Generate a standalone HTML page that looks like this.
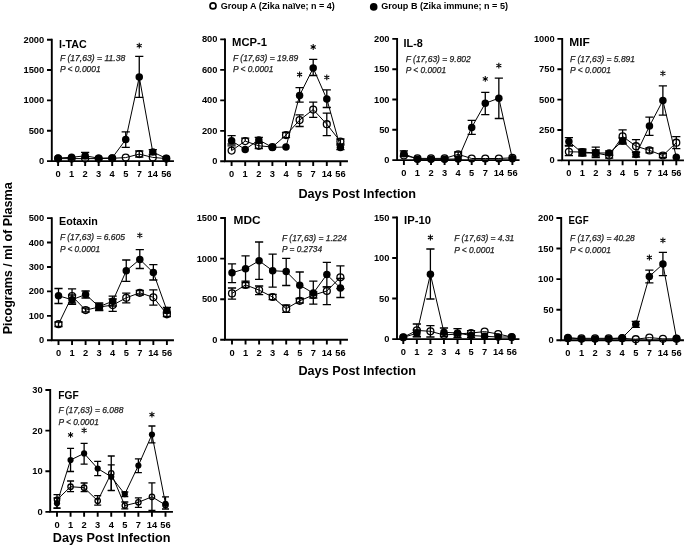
<!DOCTYPE html>
<html><head><meta charset="utf-8"><title>Cytokines</title>
<style>
html,body{margin:0;padding:0;background:#fff;}
body{width:685px;height:546px;overflow:hidden;}
svg{display:block;filter:grayscale(1);}
text{font-family:"Liberation Sans", sans-serif;}
.tl{font-size:9.3px;font-weight:bold;fill:#000;}
.ti{font-size:10.8px;font-weight:bold;fill:#000;}
.st{font-size:8.6px;font-style:italic;fill:#222;stroke:#222;stroke-width:0.25px;}
.lg{font-size:9.4px;font-weight:bold;fill:#000;}
.ax{font-size:12.6px;font-weight:bold;fill:#000;}
.star{font-size:13px;font-weight:bold;fill:#000;}
</style></head>
<body>
<svg width="685" height="546" viewBox="0 0 685 546">
<rect width="685" height="546" fill="#fff"/>
<circle cx="213" cy="5.9" r="3.0" fill="none" stroke="#000" stroke-width="1.7"/>
<text x="220.8" y="8.8" class="lg" textLength="114" lengthAdjust="spacingAndGlyphs">Group A (Zika na&#239;ve; n = 4)</text>
<circle cx="373.7" cy="6.9" r="3.8" fill="#000"/>
<text x="381.2" y="8.9" class="lg" textLength="126.8" lengthAdjust="spacingAndGlyphs">Group B (Zika immune; n = 5)</text>
<text x="298.4" y="197.6" class="ax" textLength="117.6" lengthAdjust="spacingAndGlyphs">Days Post Infection</text>
<text x="298.4" y="375.4" class="ax" textLength="117.6" lengthAdjust="spacingAndGlyphs">Days Post Infection</text>
<text x="52.8" y="541.5" class="ax" textLength="117.6" lengthAdjust="spacingAndGlyphs">Days Post Infection</text>
<text transform="translate(11.7 334.3) rotate(-90)" x="0" y="0" class="ax" textLength="152.0" lengthAdjust="spacingAndGlyphs">Picograms / ml of Plasma</text>
<path d="M51.8 39.7V161.1H173" fill="none" stroke="#000" stroke-width="1.9" stroke-linecap="square"/>
<text x="44.2" y="42.75" class="tl" text-anchor="end">2000</text>
<text x="44.2" y="73.1" class="tl" text-anchor="end">1500</text>
<text x="44.2" y="103.45" class="tl" text-anchor="end">1000</text>
<text x="44.2" y="133.8" class="tl" text-anchor="end">500</text>
<text x="44.2" y="164.15" class="tl" text-anchor="end">0</text>
<path d="M47 39.7H51.8 M47 70.05H51.8 M47 100.4H51.8 M47 130.75H51.8 M47 161.1H51.8 M58.1 161.1V165.9 M71.62 161.1V165.9 M85.15 161.1V165.9 M98.68 161.1V165.9 M112.2 161.1V165.9 M125.73 161.1V165.9 M139.25 161.1V165.9 M152.78 161.1V165.9 M166.3 161.1V165.9" stroke="#000" stroke-width="1.9" fill="none"/>
<text x="58.1" y="176.9" class="tl" text-anchor="middle">0</text>
<text x="71.62" y="176.9" class="tl" text-anchor="middle">1</text>
<text x="85.15" y="176.9" class="tl" text-anchor="middle">2</text>
<text x="98.68" y="176.9" class="tl" text-anchor="middle">3</text>
<text x="112.2" y="176.9" class="tl" text-anchor="middle">4</text>
<text x="125.73" y="176.9" class="tl" text-anchor="middle">5</text>
<text x="139.25" y="176.9" class="tl" text-anchor="middle">7</text>
<text x="152.78" y="176.9" class="tl" text-anchor="middle">14</text>
<text x="166.3" y="176.9" class="tl" text-anchor="middle">56</text>
<text x="59.1" y="47.7" class="ti" textLength="27.7" lengthAdjust="spacingAndGlyphs">I-TAC</text>
<text x="59.9" y="61.15" class="st" textLength="65.4" lengthAdjust="spacingAndGlyphs">F (17,63) = 11.38</text>
<text x="59.9" y="72.35" class="st" textLength="40.8" lengthAdjust="spacingAndGlyphs">P &lt; 0.0001</text>
<polyline points="58.1,158.6 71.62,158.6 85.15,158.6 98.68,158.6 112.2,158.3 125.73,157.6 139.25,154.1 152.78,157.4 166.3,158.6" fill="none" stroke="#000" stroke-width="1.0"/>
<polyline points="58.1,158 71.62,157.3 85.15,155.8 98.68,158.2 112.2,157.9 125.73,139.6 139.25,77 152.78,152 166.3,158.4" fill="none" stroke="#000" stroke-width="1.0"/>
<path d="M139.25 151V157 M135.15 151H143.35 M135.15 157H143.35" stroke="#000" stroke-width="1.3" fill="none"/>
<path d="M85.15 152.3V158.5 M81.05 152.3H89.25 M81.05 158.5H89.25 M125.73 131.9V147.4 M121.63 131.9H129.83 M121.63 147.4H129.83 M139.25 56.4V97.4 M135.15 56.4H143.35 M135.15 97.4H143.35 M152.78 149.6V154.4 M148.68 149.6H156.88 M148.68 154.4H156.88" stroke="#000" stroke-width="1.3" fill="none"/>
<circle cx="58.1" cy="158" r="3.75" fill="#000"/>
<circle cx="71.62" cy="157.3" r="3.75" fill="#000"/>
<circle cx="85.15" cy="155.8" r="3.75" fill="#000"/>
<circle cx="98.68" cy="158.2" r="3.75" fill="#000"/>
<circle cx="112.2" cy="157.9" r="3.75" fill="#000"/>
<circle cx="125.73" cy="139.6" r="3.75" fill="#000"/>
<circle cx="139.25" cy="77" r="3.75" fill="#000"/>
<circle cx="152.78" cy="152" r="3.75" fill="#000"/>
<circle cx="166.3" cy="158.4" r="3.75" fill="#000"/>
<circle cx="58.1" cy="158.6" r="3.45" fill="none" stroke="#000" stroke-width="1.3"/>
<circle cx="71.62" cy="158.6" r="3.45" fill="none" stroke="#000" stroke-width="1.3"/>
<circle cx="85.15" cy="158.6" r="3.45" fill="none" stroke="#000" stroke-width="1.3"/>
<circle cx="98.68" cy="158.6" r="3.45" fill="none" stroke="#000" stroke-width="1.3"/>
<circle cx="112.2" cy="158.3" r="3.45" fill="none" stroke="#000" stroke-width="1.3"/>
<circle cx="125.73" cy="157.6" r="3.45" fill="none" stroke="#000" stroke-width="1.3"/>
<circle cx="139.25" cy="154.1" r="3.45" fill="none" stroke="#000" stroke-width="1.3"/>
<circle cx="152.78" cy="157.4" r="3.45" fill="none" stroke="#000" stroke-width="1.3"/>
<circle cx="166.3" cy="158.6" r="3.45" fill="none" stroke="#000" stroke-width="1.3"/>
<path d="M139.25 42.8V48.6 M136.74 44.25L141.76 47.15 M136.74 47.15L141.76 44.25" stroke="#000" stroke-width="1.05" fill="none"/>
<path d="M225 39.4V161.3H347" fill="none" stroke="#000" stroke-width="1.9" stroke-linecap="square"/>
<text x="217.4" y="42.45" class="tl" text-anchor="end">800</text>
<text x="217.4" y="72.92" class="tl" text-anchor="end">600</text>
<text x="217.4" y="103.4" class="tl" text-anchor="end">400</text>
<text x="217.4" y="133.88" class="tl" text-anchor="end">200</text>
<text x="217.4" y="164.35" class="tl" text-anchor="end">0</text>
<path d="M220.2 39.4H225 M220.2 69.88H225 M220.2 100.35H225 M220.2 130.83H225 M220.2 161.3H225 M231.6 161.3V166.1 M245.2 161.3V166.1 M258.8 161.3V166.1 M272.4 161.3V166.1 M286 161.3V166.1 M299.6 161.3V166.1 M313.2 161.3V166.1 M326.8 161.3V166.1 M340.4 161.3V166.1" stroke="#000" stroke-width="1.9" fill="none"/>
<text x="231.6" y="177.1" class="tl" text-anchor="middle">0</text>
<text x="245.2" y="177.1" class="tl" text-anchor="middle">1</text>
<text x="258.8" y="177.1" class="tl" text-anchor="middle">2</text>
<text x="272.4" y="177.1" class="tl" text-anchor="middle">3</text>
<text x="286" y="177.1" class="tl" text-anchor="middle">4</text>
<text x="299.6" y="177.1" class="tl" text-anchor="middle">5</text>
<text x="313.2" y="177.1" class="tl" text-anchor="middle">7</text>
<text x="326.8" y="177.1" class="tl" text-anchor="middle">14</text>
<text x="340.4" y="177.1" class="tl" text-anchor="middle">56</text>
<text x="232.1" y="46.3" class="ti" textLength="34.9" lengthAdjust="spacingAndGlyphs">MCP-1</text>
<text x="232.9" y="61.15" class="st" textLength="65.4" lengthAdjust="spacingAndGlyphs">F (17,63) = 19.89</text>
<text x="232.9" y="72.45" class="st" textLength="40.5" lengthAdjust="spacingAndGlyphs">P &lt; 0.0001</text>
<polyline points="231.6,150.6 245.2,141.1 258.8,145.8 272.4,147 286,135.1 299.6,120.1 313.2,109.6 326.8,124.2 340.4,141.5" fill="none" stroke="#000" stroke-width="1.0"/>
<polyline points="231.6,140.8 245.2,149.4 258.8,139.9 272.4,147.4 286,147 299.6,95.4 313.2,68.1 326.8,99 340.4,147.4" fill="none" stroke="#000" stroke-width="1.0"/>
<path d="M231.6 145.8V150.6 M227.5 145.8H235.7 M245.2 138.1V141.1 M241.1 138.1H249.3 M258.8 143V148.5 M254.7 143H262.9 M254.7 148.5H262.9 M286 132.5V137.7 M281.9 132.5H290.1 M281.9 137.7H290.1 M299.6 114.8V126.5 M295.5 114.8H303.7 M295.5 126.5H303.7 M313.2 102.1V117.4 M309.1 102.1H317.3 M309.1 117.4H317.3 M326.8 113.2V135.6 M322.7 113.2H330.9 M322.7 135.6H330.9 M340.4 139V144 M336.3 139H344.5 M336.3 144H344.5" stroke="#000" stroke-width="1.3" fill="none"/>
<path d="M231.6 135.7V144 M227.5 135.7H235.7 M227.5 144H235.7 M258.8 137.3V142.5 M254.7 137.3H262.9 M254.7 142.5H262.9 M299.6 87.6V102.2 M295.5 87.6H303.7 M295.5 102.2H303.7 M313.2 59.4V75.5 M309.1 59.4H317.3 M309.1 75.5H317.3 M326.8 89.9V107.5 M322.7 89.9H330.9 M322.7 107.5H330.9 M340.4 145.2V149.6 M336.3 145.2H344.5 M336.3 149.6H344.5" stroke="#000" stroke-width="1.3" fill="none"/>
<circle cx="231.6" cy="140.8" r="3.75" fill="#000"/>
<circle cx="245.2" cy="149.4" r="3.75" fill="#000"/>
<circle cx="258.8" cy="139.9" r="3.75" fill="#000"/>
<circle cx="272.4" cy="147.4" r="3.75" fill="#000"/>
<circle cx="286" cy="147" r="3.75" fill="#000"/>
<circle cx="299.6" cy="95.4" r="3.75" fill="#000"/>
<circle cx="313.2" cy="68.1" r="3.75" fill="#000"/>
<circle cx="326.8" cy="99" r="3.75" fill="#000"/>
<circle cx="340.4" cy="147.4" r="3.75" fill="#000"/>
<circle cx="231.6" cy="150.6" r="3.45" fill="none" stroke="#000" stroke-width="1.3"/>
<circle cx="245.2" cy="141.1" r="3.45" fill="none" stroke="#000" stroke-width="1.3"/>
<circle cx="258.8" cy="145.8" r="3.45" fill="none" stroke="#000" stroke-width="1.3"/>
<circle cx="272.4" cy="147" r="3.45" fill="none" stroke="#000" stroke-width="1.3"/>
<circle cx="286" cy="135.1" r="3.45" fill="none" stroke="#000" stroke-width="1.3"/>
<circle cx="299.6" cy="120.1" r="3.45" fill="none" stroke="#000" stroke-width="1.3"/>
<circle cx="313.2" cy="109.6" r="3.45" fill="none" stroke="#000" stroke-width="1.3"/>
<circle cx="326.8" cy="124.2" r="3.45" fill="none" stroke="#000" stroke-width="1.3"/>
<circle cx="340.4" cy="141.5" r="3.45" fill="none" stroke="#000" stroke-width="1.3"/>
<path d="M299.6 71.6V77.4 M297.09 73.05L302.11 75.95 M297.09 75.95L302.11 73.05" stroke="#000" stroke-width="1.05" fill="none"/>
<path d="M313.2 44.1V49.9 M310.69 45.55L315.71 48.45 M310.69 48.45L315.71 45.55" stroke="#000" stroke-width="1.05" fill="none"/>
<path d="M326.8 74.5V80.3 M324.29 75.95L329.31 78.85 M324.29 78.85L329.31 75.95" stroke="#000" stroke-width="1.05" fill="none"/>
<path d="M397.1 38.9V160.1H518.6" fill="none" stroke="#000" stroke-width="1.9" stroke-linecap="square"/>
<text x="389.5" y="41.95" class="tl" text-anchor="end">200</text>
<text x="389.5" y="72.25" class="tl" text-anchor="end">150</text>
<text x="389.5" y="102.55" class="tl" text-anchor="end">100</text>
<text x="389.5" y="132.85" class="tl" text-anchor="end">50</text>
<text x="389.5" y="163.15" class="tl" text-anchor="end">0</text>
<path d="M392.3 38.9H397.1 M392.3 69.2H397.1 M392.3 99.5H397.1 M392.3 129.8H397.1 M392.3 160.1H397.1 M403.9 160.1V164.9 M417.46 160.1V164.9 M431.02 160.1V164.9 M444.59 160.1V164.9 M458.15 160.1V164.9 M471.71 160.1V164.9 M485.27 160.1V164.9 M498.84 160.1V164.9 M512.4 160.1V164.9" stroke="#000" stroke-width="1.9" fill="none"/>
<text x="403.9" y="175.9" class="tl" text-anchor="middle">0</text>
<text x="417.46" y="175.9" class="tl" text-anchor="middle">1</text>
<text x="431.02" y="175.9" class="tl" text-anchor="middle">2</text>
<text x="444.59" y="175.9" class="tl" text-anchor="middle">3</text>
<text x="458.15" y="175.9" class="tl" text-anchor="middle">4</text>
<text x="471.71" y="175.9" class="tl" text-anchor="middle">5</text>
<text x="485.27" y="175.9" class="tl" text-anchor="middle">7</text>
<text x="498.84" y="175.9" class="tl" text-anchor="middle">14</text>
<text x="512.4" y="175.9" class="tl" text-anchor="middle">56</text>
<text x="403.6" y="47.1" class="ti" textLength="19.3" lengthAdjust="spacingAndGlyphs">IL-8</text>
<text x="405.7" y="61.75" class="st" textLength="65.1" lengthAdjust="spacingAndGlyphs">F (17,63) = 9.802</text>
<text x="405.7" y="73.25" class="st" textLength="40.4" lengthAdjust="spacingAndGlyphs">P &lt; 0.0001</text>
<polyline points="403.9,155.5 417.46,158.4 431.02,158.4 444.59,158.4 458.15,154.3 471.71,158.5 485.27,158.5 498.84,158.5 512.4,157.8" fill="none" stroke="#000" stroke-width="1.0"/>
<polyline points="403.9,153.8 417.46,159.2 431.02,159.2 444.59,159.2 458.15,158.9 471.71,127.4 485.27,103.3 498.84,98.2 512.4,158.8" fill="none" stroke="#000" stroke-width="1.0"/>
<path d="M458.15 152V156.6 M454.05 152H462.25 M454.05 156.6H462.25" stroke="#000" stroke-width="1.3" fill="none"/>
<path d="M403.9 150.9V156.4 M399.8 150.9H408 M399.8 156.4H408 M471.71 120.3V134.4 M467.61 120.3H475.81 M467.61 134.4H475.81 M485.27 92.3V114.6 M481.17 92.3H489.38 M481.17 114.6H489.38 M498.84 78.2V118.5 M494.74 78.2H502.94 M494.74 118.5H502.94" stroke="#000" stroke-width="1.3" fill="none"/>
<circle cx="403.9" cy="153.8" r="3.75" fill="#000"/>
<circle cx="417.46" cy="159.2" r="3.75" fill="#000"/>
<circle cx="431.02" cy="159.2" r="3.75" fill="#000"/>
<circle cx="444.59" cy="159.2" r="3.75" fill="#000"/>
<circle cx="458.15" cy="158.9" r="3.75" fill="#000"/>
<circle cx="471.71" cy="127.4" r="3.75" fill="#000"/>
<circle cx="485.27" cy="103.3" r="3.75" fill="#000"/>
<circle cx="498.84" cy="98.2" r="3.75" fill="#000"/>
<circle cx="512.4" cy="158.8" r="3.75" fill="#000"/>
<circle cx="403.9" cy="155.5" r="3.45" fill="none" stroke="#000" stroke-width="1.3"/>
<circle cx="417.46" cy="158.4" r="3.45" fill="none" stroke="#000" stroke-width="1.3"/>
<circle cx="431.02" cy="158.4" r="3.45" fill="none" stroke="#000" stroke-width="1.3"/>
<circle cx="444.59" cy="158.4" r="3.45" fill="none" stroke="#000" stroke-width="1.3"/>
<circle cx="458.15" cy="154.3" r="3.45" fill="none" stroke="#000" stroke-width="1.3"/>
<circle cx="471.71" cy="158.5" r="3.45" fill="none" stroke="#000" stroke-width="1.3"/>
<circle cx="485.27" cy="158.5" r="3.45" fill="none" stroke="#000" stroke-width="1.3"/>
<circle cx="498.84" cy="158.5" r="3.45" fill="none" stroke="#000" stroke-width="1.3"/>
<circle cx="512.4" cy="157.8" r="3.45" fill="none" stroke="#000" stroke-width="1.3"/>
<path d="M485.27 76V81.8 M482.76 77.45L487.79 80.35 M482.76 80.35L487.79 77.45" stroke="#000" stroke-width="1.05" fill="none"/>
<path d="M498.84 62.7V68.5 M496.33 64.15L501.35 67.05 M496.33 67.05L501.35 64.15" stroke="#000" stroke-width="1.05" fill="none"/>
<path d="M562.2 38.9V160.4H683" fill="none" stroke="#000" stroke-width="1.9" stroke-linecap="square"/>
<text x="554.6" y="41.95" class="tl" text-anchor="end">1000</text>
<text x="554.6" y="72.33" class="tl" text-anchor="end">750</text>
<text x="554.6" y="102.7" class="tl" text-anchor="end">500</text>
<text x="554.6" y="133.08" class="tl" text-anchor="end">250</text>
<text x="554.6" y="163.45" class="tl" text-anchor="end">0</text>
<path d="M557.4 38.9H562.2 M557.4 69.28H562.2 M557.4 99.65H562.2 M557.4 130.03H562.2 M557.4 160.4H562.2 M568.9 160.4V165.2 M582.32 160.4V165.2 M595.75 160.4V165.2 M609.17 160.4V165.2 M622.6 160.4V165.2 M636.02 160.4V165.2 M649.45 160.4V165.2 M662.88 160.4V165.2 M676.3 160.4V165.2" stroke="#000" stroke-width="1.9" fill="none"/>
<text x="568.9" y="176.2" class="tl" text-anchor="middle">0</text>
<text x="582.32" y="176.2" class="tl" text-anchor="middle">1</text>
<text x="595.75" y="176.2" class="tl" text-anchor="middle">2</text>
<text x="609.17" y="176.2" class="tl" text-anchor="middle">3</text>
<text x="622.6" y="176.2" class="tl" text-anchor="middle">4</text>
<text x="636.02" y="176.2" class="tl" text-anchor="middle">5</text>
<text x="649.45" y="176.2" class="tl" text-anchor="middle">7</text>
<text x="662.88" y="176.2" class="tl" text-anchor="middle">14</text>
<text x="676.3" y="176.2" class="tl" text-anchor="middle">56</text>
<text x="569.3" y="46.3" class="ti" textLength="20.6" lengthAdjust="spacingAndGlyphs">MIF</text>
<text x="570.1" y="61.75" class="st" textLength="64.9" lengthAdjust="spacingAndGlyphs">F (17,63) = 5.891</text>
<text x="570.1" y="72.65" class="st" textLength="40.8" lengthAdjust="spacingAndGlyphs">P &lt; 0.0001</text>
<polyline points="568.9,151.8 582.32,152 595.75,153 609.17,155.6 622.6,136.4 636.02,146.2 649.45,150.4 662.88,155.5 676.3,142.7" fill="none" stroke="#000" stroke-width="1.0"/>
<polyline points="568.9,141.5 582.32,153 595.75,153 609.17,153 622.6,141 636.02,154.5 649.45,126.1 662.88,100.5 676.3,157.2" fill="none" stroke="#000" stroke-width="1.0"/>
<path d="M568.9 146.2V155.7 M564.8 146.2H573 M564.8 155.7H573 M582.32 149V155 M578.22 149H586.42 M578.22 155H586.42 M595.75 150V156 M591.65 150H599.85 M591.65 156H599.85 M609.17 153V158.2 M605.07 153H613.27 M605.07 158.2H613.27 M622.6 129.9V143 M618.5 129.9H626.7 M618.5 143H626.7 M636.02 139.7V152.7 M631.92 139.7H640.12 M631.92 152.7H640.12 M649.45 148V152.8 M645.35 148H653.55 M645.35 152.8H653.55 M662.88 153.5V157.5 M658.77 153.5H666.98 M658.77 157.5H666.98 M676.3 136.6V148.6 M672.2 136.6H680.4 M672.2 148.6H680.4" stroke="#000" stroke-width="1.3" fill="none"/>
<path d="M568.9 137.7V145.3 M564.8 137.7H573 M564.8 145.3H573 M582.32 150V156 M578.22 150H586.42 M578.22 156H586.42 M595.75 147.2V157.5 M591.65 147.2H599.85 M591.65 157.5H599.85 M609.17 151V155 M605.07 151H613.27 M605.07 155H613.27 M622.6 138V144 M618.5 138H626.7 M618.5 144H626.7 M636.02 152V157 M631.92 152H640.12 M631.92 157H640.12 M649.45 117.1V135.4 M645.35 117.1H653.55 M645.35 135.4H653.55 M662.88 85.9V115.1 M658.77 85.9H666.98 M658.77 115.1H666.98" stroke="#000" stroke-width="1.3" fill="none"/>
<circle cx="568.9" cy="141.5" r="3.75" fill="#000"/>
<circle cx="582.32" cy="153" r="3.75" fill="#000"/>
<circle cx="595.75" cy="153" r="3.75" fill="#000"/>
<circle cx="609.17" cy="153" r="3.75" fill="#000"/>
<circle cx="622.6" cy="141" r="3.75" fill="#000"/>
<circle cx="636.02" cy="154.5" r="3.75" fill="#000"/>
<circle cx="649.45" cy="126.1" r="3.75" fill="#000"/>
<circle cx="662.88" cy="100.5" r="3.75" fill="#000"/>
<circle cx="676.3" cy="157.2" r="3.75" fill="#000"/>
<circle cx="568.9" cy="151.8" r="3.45" fill="none" stroke="#000" stroke-width="1.3"/>
<circle cx="582.32" cy="152" r="3.45" fill="none" stroke="#000" stroke-width="1.3"/>
<circle cx="595.75" cy="153" r="3.45" fill="none" stroke="#000" stroke-width="1.3"/>
<circle cx="609.17" cy="155.6" r="3.45" fill="none" stroke="#000" stroke-width="1.3"/>
<circle cx="622.6" cy="136.4" r="3.45" fill="none" stroke="#000" stroke-width="1.3"/>
<circle cx="636.02" cy="146.2" r="3.45" fill="none" stroke="#000" stroke-width="1.3"/>
<circle cx="649.45" cy="150.4" r="3.45" fill="none" stroke="#000" stroke-width="1.3"/>
<circle cx="662.88" cy="155.5" r="3.45" fill="none" stroke="#000" stroke-width="1.3"/>
<circle cx="676.3" cy="142.7" r="3.45" fill="none" stroke="#000" stroke-width="1.3"/>
<path d="M662.88 70.4V76.2 M660.36 71.85L665.39 74.75 M660.36 74.75L665.39 71.85" stroke="#000" stroke-width="1.05" fill="none"/>
<path d="M51.8 218.1V340.3H173" fill="none" stroke="#000" stroke-width="1.9" stroke-linecap="square"/>
<text x="44.2" y="221.15" class="tl" text-anchor="end">500</text>
<text x="44.2" y="245.59" class="tl" text-anchor="end">400</text>
<text x="44.2" y="270.03" class="tl" text-anchor="end">300</text>
<text x="44.2" y="294.47" class="tl" text-anchor="end">200</text>
<text x="44.2" y="318.91" class="tl" text-anchor="end">100</text>
<text x="44.2" y="343.35" class="tl" text-anchor="end">0</text>
<path d="M47 218.1H51.8 M47 242.54H51.8 M47 266.98H51.8 M47 291.42H51.8 M47 315.86H51.8 M47 340.3H51.8 M58.5 340.3V345.1 M72.05 340.3V345.1 M85.6 340.3V345.1 M99.15 340.3V345.1 M112.7 340.3V345.1 M126.25 340.3V345.1 M139.8 340.3V345.1 M153.35 340.3V345.1 M166.9 340.3V345.1" stroke="#000" stroke-width="1.9" fill="none"/>
<text x="58.5" y="356.1" class="tl" text-anchor="middle">0</text>
<text x="72.05" y="356.1" class="tl" text-anchor="middle">1</text>
<text x="85.6" y="356.1" class="tl" text-anchor="middle">2</text>
<text x="99.15" y="356.1" class="tl" text-anchor="middle">3</text>
<text x="112.7" y="356.1" class="tl" text-anchor="middle">4</text>
<text x="126.25" y="356.1" class="tl" text-anchor="middle">5</text>
<text x="139.8" y="356.1" class="tl" text-anchor="middle">7</text>
<text x="153.35" y="356.1" class="tl" text-anchor="middle">14</text>
<text x="166.9" y="356.1" class="tl" text-anchor="middle">56</text>
<text x="59.1" y="224.7" class="ti" textLength="38.7" lengthAdjust="spacingAndGlyphs">Eotaxin</text>
<text x="59.9" y="240.35" class="st" textLength="65.1" lengthAdjust="spacingAndGlyphs">F (17,63) = 6.605</text>
<text x="59.9" y="251.85" class="st" textLength="40.2" lengthAdjust="spacingAndGlyphs">P &lt; 0.0001</text>
<polyline points="58.5,324.2 72.05,296.1 85.6,310.1 99.15,307 112.7,305.1 126.25,297.8 139.8,292.8 153.35,297.3 166.9,314.3" fill="none" stroke="#000" stroke-width="1.0"/>
<polyline points="58.5,295.8 72.05,299.7 85.6,294.5 99.15,306.7 112.7,301.2 126.25,270.8 139.8,259.4 153.35,272.6 166.9,310.4" fill="none" stroke="#000" stroke-width="1.0"/>
<path d="M58.5 322V326.5 M54.4 322H62.6 M54.4 326.5H62.6 M72.05 288.8V303 M67.95 288.8H76.15 M67.95 303H76.15 M85.6 308V312 M81.5 308H89.7 M81.5 312H89.7 M99.15 304V310 M95.05 304H103.25 M95.05 310H103.25 M112.7 299V311.3 M108.6 299H116.8 M108.6 311.3H116.8 M126.25 293.2V302.8 M122.15 293.2H130.35 M122.15 302.8H130.35 M139.8 290.5V295 M135.7 290.5H143.9 M135.7 295H143.9 M153.35 289.8V305.1 M149.25 289.8H157.45 M149.25 305.1H157.45 M166.9 312V316.5 M162.8 312H171 M162.8 316.5H171" stroke="#000" stroke-width="1.3" fill="none"/>
<path d="M58.5 288.5V303.5 M54.4 288.5H62.6 M54.4 303.5H62.6 M72.05 295V304.3 M67.95 295H76.15 M67.95 304.3H76.15 M85.6 291V298 M81.5 291H89.7 M81.5 298H89.7 M99.15 302.8V310.5 M95.05 302.8H103.25 M95.05 310.5H103.25 M112.7 296.1V306 M108.6 296.1H116.8 M108.6 306H116.8 M126.25 260V281.3 M122.15 260H130.35 M122.15 281.3H130.35 M139.8 249.7V268.5 M135.7 249.7H143.9 M135.7 268.5H143.9 M153.35 264.6V280 M149.25 264.6H157.45 M149.25 280H157.45 M166.9 307.5V313 M162.8 307.5H171 M162.8 313H171" stroke="#000" stroke-width="1.3" fill="none"/>
<circle cx="58.5" cy="295.8" r="3.75" fill="#000"/>
<circle cx="72.05" cy="299.7" r="3.75" fill="#000"/>
<circle cx="85.6" cy="294.5" r="3.75" fill="#000"/>
<circle cx="99.15" cy="306.7" r="3.75" fill="#000"/>
<circle cx="112.7" cy="301.2" r="3.75" fill="#000"/>
<circle cx="126.25" cy="270.8" r="3.75" fill="#000"/>
<circle cx="139.8" cy="259.4" r="3.75" fill="#000"/>
<circle cx="153.35" cy="272.6" r="3.75" fill="#000"/>
<circle cx="166.9" cy="310.4" r="3.75" fill="#000"/>
<circle cx="58.5" cy="324.2" r="3.45" fill="none" stroke="#000" stroke-width="1.3"/>
<circle cx="72.05" cy="296.1" r="3.45" fill="none" stroke="#000" stroke-width="1.3"/>
<circle cx="85.6" cy="310.1" r="3.45" fill="none" stroke="#000" stroke-width="1.3"/>
<circle cx="99.15" cy="307" r="3.45" fill="none" stroke="#000" stroke-width="1.3"/>
<circle cx="112.7" cy="305.1" r="3.45" fill="none" stroke="#000" stroke-width="1.3"/>
<circle cx="126.25" cy="297.8" r="3.45" fill="none" stroke="#000" stroke-width="1.3"/>
<circle cx="139.8" cy="292.8" r="3.45" fill="none" stroke="#000" stroke-width="1.3"/>
<circle cx="153.35" cy="297.3" r="3.45" fill="none" stroke="#000" stroke-width="1.3"/>
<circle cx="166.9" cy="314.3" r="3.45" fill="none" stroke="#000" stroke-width="1.3"/>
<path d="M139.8 232.4V238.2 M137.29 233.85L142.31 236.75 M137.29 236.75L142.31 233.85" stroke="#000" stroke-width="1.05" fill="none"/>
<path d="M225 218V339.8H347" fill="none" stroke="#000" stroke-width="1.9" stroke-linecap="square"/>
<text x="217.4" y="221.05" class="tl" text-anchor="end">1500</text>
<text x="217.4" y="261.65" class="tl" text-anchor="end">1000</text>
<text x="217.4" y="302.25" class="tl" text-anchor="end">500</text>
<text x="217.4" y="342.85" class="tl" text-anchor="end">0</text>
<path d="M220.2 218H225 M220.2 258.6H225 M220.2 299.2H225 M220.2 339.8H225 M232 339.8V344.6 M245.55 339.8V344.6 M259.1 339.8V344.6 M272.65 339.8V344.6 M286.2 339.8V344.6 M299.75 339.8V344.6 M313.3 339.8V344.6 M326.85 339.8V344.6 M340.4 339.8V344.6" stroke="#000" stroke-width="1.9" fill="none"/>
<text x="232" y="355.6" class="tl" text-anchor="middle">0</text>
<text x="245.55" y="355.6" class="tl" text-anchor="middle">1</text>
<text x="259.1" y="355.6" class="tl" text-anchor="middle">2</text>
<text x="272.65" y="355.6" class="tl" text-anchor="middle">3</text>
<text x="286.2" y="355.6" class="tl" text-anchor="middle">4</text>
<text x="299.75" y="355.6" class="tl" text-anchor="middle">5</text>
<text x="313.3" y="355.6" class="tl" text-anchor="middle">7</text>
<text x="326.85" y="355.6" class="tl" text-anchor="middle">14</text>
<text x="340.4" y="355.6" class="tl" text-anchor="middle">56</text>
<text x="233.5" y="224.2" class="ti" textLength="27.1" lengthAdjust="spacingAndGlyphs">MDC</text>
<text x="282" y="241.15" class="st" textLength="64.8" lengthAdjust="spacingAndGlyphs">F (17,63) = 1.224</text>
<text x="282" y="251.85" class="st" textLength="40" lengthAdjust="spacingAndGlyphs">P = 0.2734</text>
<polyline points="232,293.4 245.55,284.9 259.1,290.1 272.65,297 286.2,308.7 299.75,300.8 313.3,295 326.85,291 340.4,277.3" fill="none" stroke="#000" stroke-width="1.0"/>
<polyline points="232,272.8 245.55,268.7 259.1,260.8 272.65,270.7 286.2,271.5 299.75,285.2 313.3,293.1 326.85,274.5 340.4,288" fill="none" stroke="#000" stroke-width="1.0"/>
<path d="M232 288V299.2 M227.9 288H236.1 M227.9 299.2H236.1 M245.55 282.5V287.5 M241.45 282.5H249.65 M241.45 287.5H249.65 M259.1 286V294.6 M255 286H263.2 M255 294.6H263.2 M272.65 294.3V299.7 M268.55 294.3H276.75 M268.55 299.7H276.75 M286.2 305V312.4 M282.1 305H290.3 M282.1 312.4H290.3 M299.75 298.5V303 M295.65 298.5H303.85 M295.65 303H303.85 M313.3 292V298 M309.2 292H317.4 M309.2 298H317.4 M326.85 286.8V304.6 M322.75 286.8H330.95 M322.75 304.6H330.95 M340.4 265.9V288.7 M336.3 265.9H344.5 M336.3 288.7H344.5" stroke="#000" stroke-width="1.3" fill="none"/>
<path d="M232 263.8V282.7 M227.9 263.8H236.1 M227.9 282.7H236.1 M245.55 255.9V281.1 M241.45 255.9H249.65 M241.45 281.1H249.65 M259.1 242V279.4 M255 242H263.2 M255 279.4H263.2 M272.65 254.2V287.2 M268.55 254.2H276.75 M268.55 287.2H276.75 M286.2 258.3V285.5 M282.1 258.3H290.3 M282.1 285.5H290.3 M299.75 272V298.5 M295.65 272H303.85 M295.65 298.5H303.85 M313.3 281.1V304.1 M309.2 281.1H317.4 M309.2 304.1H317.4 M326.85 262.4V286.8 M322.75 262.4H330.95 M322.75 286.8H330.95 M340.4 278.5V297.5 M336.3 278.5H344.5 M336.3 297.5H344.5" stroke="#000" stroke-width="1.3" fill="none"/>
<circle cx="232" cy="272.8" r="3.75" fill="#000"/>
<circle cx="245.55" cy="268.7" r="3.75" fill="#000"/>
<circle cx="259.1" cy="260.8" r="3.75" fill="#000"/>
<circle cx="272.65" cy="270.7" r="3.75" fill="#000"/>
<circle cx="286.2" cy="271.5" r="3.75" fill="#000"/>
<circle cx="299.75" cy="285.2" r="3.75" fill="#000"/>
<circle cx="313.3" cy="293.1" r="3.75" fill="#000"/>
<circle cx="326.85" cy="274.5" r="3.75" fill="#000"/>
<circle cx="340.4" cy="288" r="3.75" fill="#000"/>
<circle cx="232" cy="293.4" r="3.45" fill="none" stroke="#000" stroke-width="1.3"/>
<circle cx="245.55" cy="284.9" r="3.45" fill="none" stroke="#000" stroke-width="1.3"/>
<circle cx="259.1" cy="290.1" r="3.45" fill="none" stroke="#000" stroke-width="1.3"/>
<circle cx="272.65" cy="297" r="3.45" fill="none" stroke="#000" stroke-width="1.3"/>
<circle cx="286.2" cy="308.7" r="3.45" fill="none" stroke="#000" stroke-width="1.3"/>
<circle cx="299.75" cy="300.8" r="3.45" fill="none" stroke="#000" stroke-width="1.3"/>
<circle cx="313.3" cy="295" r="3.45" fill="none" stroke="#000" stroke-width="1.3"/>
<circle cx="326.85" cy="291" r="3.45" fill="none" stroke="#000" stroke-width="1.3"/>
<circle cx="340.4" cy="277.3" r="3.45" fill="none" stroke="#000" stroke-width="1.3"/>
<path d="M397 217.5V339.1H518.5" fill="none" stroke="#000" stroke-width="1.9" stroke-linecap="square"/>
<text x="389.4" y="220.55" class="tl" text-anchor="end">150</text>
<text x="389.4" y="261.08" class="tl" text-anchor="end">100</text>
<text x="389.4" y="301.62" class="tl" text-anchor="end">50</text>
<text x="389.4" y="342.15" class="tl" text-anchor="end">0</text>
<path d="M392.2 217.5H397 M392.2 258.03H397 M392.2 298.57H397 M392.2 339.1H397 M403.3 339.1V343.9 M416.85 339.1V343.9 M430.4 339.1V343.9 M443.95 339.1V343.9 M457.5 339.1V343.9 M471.05 339.1V343.9 M484.6 339.1V343.9 M498.15 339.1V343.9 M511.7 339.1V343.9" stroke="#000" stroke-width="1.9" fill="none"/>
<text x="403.3" y="354.9" class="tl" text-anchor="middle">0</text>
<text x="416.85" y="354.9" class="tl" text-anchor="middle">1</text>
<text x="430.4" y="354.9" class="tl" text-anchor="middle">2</text>
<text x="443.95" y="354.9" class="tl" text-anchor="middle">3</text>
<text x="457.5" y="354.9" class="tl" text-anchor="middle">4</text>
<text x="471.05" y="354.9" class="tl" text-anchor="middle">5</text>
<text x="484.6" y="354.9" class="tl" text-anchor="middle">7</text>
<text x="498.15" y="354.9" class="tl" text-anchor="middle">14</text>
<text x="511.7" y="354.9" class="tl" text-anchor="middle">56</text>
<text x="404" y="223.9" class="ti" textLength="26.9" lengthAdjust="spacingAndGlyphs">IP-10</text>
<text x="454.2" y="241.35" class="st" textLength="60.1" lengthAdjust="spacingAndGlyphs">F (17,63) = 4.31</text>
<text x="454.2" y="252.85" class="st" textLength="40.6" lengthAdjust="spacingAndGlyphs">P &lt; 0.0001</text>
<polyline points="403.3,337.3 416.85,330.4 430.4,331.3 443.95,335 457.5,334 471.05,333 484.6,331.6 498.15,334 511.7,337" fill="none" stroke="#000" stroke-width="1.0"/>
<polyline points="403.3,337.3 416.85,333.3 430.4,274.2 443.95,332.3 457.5,333 471.05,335.5 484.6,336.3 498.15,337 511.7,337" fill="none" stroke="#000" stroke-width="1.0"/>
<path d="M416.85 324V336.8 M412.75 324H420.95 M412.75 336.8H420.95 M430.4 325.6V337 M426.3 325.6H434.5 M426.3 337H434.5" stroke="#000" stroke-width="1.3" fill="none"/>
<path d="M416.85 330V336.5 M412.75 330H420.95 M412.75 336.5H420.95 M430.4 249V299 M426.3 249H434.5 M426.3 299H434.5 M443.95 328V336.5 M439.85 328H448.05 M439.85 336.5H448.05 M457.5 328.6V337.5 M453.4 328.6H461.6 M453.4 337.5H461.6 M471.05 330.6V337.5 M466.95 330.6H475.15 M466.95 337.5H475.15" stroke="#000" stroke-width="1.3" fill="none"/>
<circle cx="403.3" cy="337.3" r="3.75" fill="#000"/>
<circle cx="416.85" cy="333.3" r="3.75" fill="#000"/>
<circle cx="430.4" cy="274.2" r="3.75" fill="#000"/>
<circle cx="443.95" cy="332.3" r="3.75" fill="#000"/>
<circle cx="457.5" cy="333" r="3.75" fill="#000"/>
<circle cx="471.05" cy="335.5" r="3.75" fill="#000"/>
<circle cx="484.6" cy="336.3" r="3.75" fill="#000"/>
<circle cx="498.15" cy="337" r="3.75" fill="#000"/>
<circle cx="511.7" cy="337" r="3.75" fill="#000"/>
<circle cx="403.3" cy="337.3" r="3.45" fill="none" stroke="#000" stroke-width="1.3"/>
<circle cx="416.85" cy="330.4" r="3.45" fill="none" stroke="#000" stroke-width="1.3"/>
<circle cx="430.4" cy="331.3" r="3.45" fill="none" stroke="#000" stroke-width="1.3"/>
<circle cx="443.95" cy="335" r="3.45" fill="none" stroke="#000" stroke-width="1.3"/>
<circle cx="457.5" cy="334" r="3.45" fill="none" stroke="#000" stroke-width="1.3"/>
<circle cx="471.05" cy="333" r="3.45" fill="none" stroke="#000" stroke-width="1.3"/>
<circle cx="484.6" cy="331.6" r="3.45" fill="none" stroke="#000" stroke-width="1.3"/>
<circle cx="498.15" cy="334" r="3.45" fill="none" stroke="#000" stroke-width="1.3"/>
<circle cx="511.7" cy="337" r="3.45" fill="none" stroke="#000" stroke-width="1.3"/>
<path d="M430.4 234.6V240.4 M427.89 236.05L432.91 238.95 M427.89 238.95L432.91 236.05" stroke="#000" stroke-width="1.05" fill="none"/>
<path d="M561.2 218V340.3H683" fill="none" stroke="#000" stroke-width="1.9" stroke-linecap="square"/>
<text x="553.6" y="221.05" class="tl" text-anchor="end">200</text>
<text x="553.6" y="251.62" class="tl" text-anchor="end">150</text>
<text x="553.6" y="282.2" class="tl" text-anchor="end">100</text>
<text x="553.6" y="312.78" class="tl" text-anchor="end">50</text>
<text x="553.6" y="343.35" class="tl" text-anchor="end">0</text>
<path d="M556.4 218H561.2 M556.4 248.57H561.2 M556.4 279.15H561.2 M556.4 309.73H561.2 M556.4 340.3H561.2 M567.9 340.3V345.1 M581.48 340.3V345.1 M595.05 340.3V345.1 M608.62 340.3V345.1 M622.2 340.3V345.1 M635.77 340.3V345.1 M649.35 340.3V345.1 M662.92 340.3V345.1 M676.5 340.3V345.1" stroke="#000" stroke-width="1.9" fill="none"/>
<text x="567.9" y="356.1" class="tl" text-anchor="middle">0</text>
<text x="581.48" y="356.1" class="tl" text-anchor="middle">1</text>
<text x="595.05" y="356.1" class="tl" text-anchor="middle">2</text>
<text x="608.62" y="356.1" class="tl" text-anchor="middle">3</text>
<text x="622.2" y="356.1" class="tl" text-anchor="middle">4</text>
<text x="635.77" y="356.1" class="tl" text-anchor="middle">5</text>
<text x="649.35" y="356.1" class="tl" text-anchor="middle">7</text>
<text x="662.92" y="356.1" class="tl" text-anchor="middle">14</text>
<text x="676.5" y="356.1" class="tl" text-anchor="middle">56</text>
<text x="568.6" y="224.2" class="ti" textLength="20" lengthAdjust="spacingAndGlyphs">EGF</text>
<text x="570.1" y="241.15" class="st" textLength="64.7" lengthAdjust="spacingAndGlyphs">F (17,63) = 40.28</text>
<text x="570.1" y="252.75" class="st" textLength="40.8" lengthAdjust="spacingAndGlyphs">P &lt; 0.0001</text>
<polyline points="567.9,338.3 581.48,338.3 595.05,338.3 608.62,338.3 622.2,338.3 635.77,339.2 649.35,337.6 662.92,338.8 676.5,338.8" fill="none" stroke="#000" stroke-width="1.0"/>
<polyline points="567.9,337.5 581.48,339 595.05,339 608.62,339 622.2,337.8 635.77,324.3 649.35,276.4 662.92,264.1 676.5,338.3" fill="none" stroke="#000" stroke-width="1.0"/>
<path d="M635.77 321.3V327.3 M631.67 321.3H639.88 M631.67 327.3H639.88 M649.35 270.1V282.8 M645.25 270.1H653.45 M645.25 282.8H653.45 M662.92 252.3V275.6 M658.82 252.3H667.02 M658.82 275.6H667.02" stroke="#000" stroke-width="1.3" fill="none"/>
<circle cx="567.9" cy="337.5" r="3.75" fill="#000"/>
<circle cx="581.48" cy="339" r="3.75" fill="#000"/>
<circle cx="595.05" cy="339" r="3.75" fill="#000"/>
<circle cx="608.62" cy="339" r="3.75" fill="#000"/>
<circle cx="622.2" cy="337.8" r="3.75" fill="#000"/>
<circle cx="635.77" cy="324.3" r="3.75" fill="#000"/>
<circle cx="649.35" cy="276.4" r="3.75" fill="#000"/>
<circle cx="662.92" cy="264.1" r="3.75" fill="#000"/>
<circle cx="676.5" cy="338.3" r="3.75" fill="#000"/>
<circle cx="567.9" cy="338.3" r="3.45" fill="none" stroke="#000" stroke-width="1.3"/>
<circle cx="581.48" cy="338.3" r="3.45" fill="none" stroke="#000" stroke-width="1.3"/>
<circle cx="595.05" cy="338.3" r="3.45" fill="none" stroke="#000" stroke-width="1.3"/>
<circle cx="608.62" cy="338.3" r="3.45" fill="none" stroke="#000" stroke-width="1.3"/>
<circle cx="622.2" cy="338.3" r="3.45" fill="none" stroke="#000" stroke-width="1.3"/>
<circle cx="635.77" cy="339.2" r="3.45" fill="none" stroke="#000" stroke-width="1.3"/>
<circle cx="649.35" cy="337.6" r="3.45" fill="none" stroke="#000" stroke-width="1.3"/>
<circle cx="662.92" cy="338.8" r="3.45" fill="none" stroke="#000" stroke-width="1.3"/>
<circle cx="676.5" cy="338.8" r="3.45" fill="none" stroke="#000" stroke-width="1.3"/>
<path d="M649.35 254.6V260.4 M646.84 256.05L651.86 258.95 M646.84 258.95L651.86 256.05" stroke="#000" stroke-width="1.05" fill="none"/>
<path d="M662.92 237.5V243.3 M660.41 238.95L665.44 241.85 M660.41 241.85L665.44 238.95" stroke="#000" stroke-width="1.05" fill="none"/>
<path d="M50.2 390V511.9H172" fill="none" stroke="#000" stroke-width="1.9" stroke-linecap="square"/>
<text x="42.6" y="393.05" class="tl" text-anchor="end">30</text>
<text x="42.6" y="433.68" class="tl" text-anchor="end">20</text>
<text x="42.6" y="474.32" class="tl" text-anchor="end">10</text>
<text x="42.6" y="514.95" class="tl" text-anchor="end">0</text>
<path d="M45.4 390H50.2 M45.4 430.63H50.2 M45.4 471.27H50.2 M45.4 511.9H50.2 M57 511.9V516.7 M70.56 511.9V516.7 M84.12 511.9V516.7 M97.69 511.9V516.7 M111.25 511.9V516.7 M124.81 511.9V516.7 M138.38 511.9V516.7 M151.94 511.9V516.7 M165.5 511.9V516.7" stroke="#000" stroke-width="1.9" fill="none"/>
<text x="57" y="527.7" class="tl" text-anchor="middle">0</text>
<text x="70.56" y="527.7" class="tl" text-anchor="middle">1</text>
<text x="84.12" y="527.7" class="tl" text-anchor="middle">2</text>
<text x="97.69" y="527.7" class="tl" text-anchor="middle">3</text>
<text x="111.25" y="527.7" class="tl" text-anchor="middle">4</text>
<text x="124.81" y="527.7" class="tl" text-anchor="middle">5</text>
<text x="138.38" y="527.7" class="tl" text-anchor="middle">7</text>
<text x="151.94" y="527.7" class="tl" text-anchor="middle">14</text>
<text x="165.5" y="527.7" class="tl" text-anchor="middle">56</text>
<text x="58.3" y="398.7" class="ti" textLength="20.4" lengthAdjust="spacingAndGlyphs">FGF</text>
<text x="58.4" y="413.25" class="st" textLength="65" lengthAdjust="spacingAndGlyphs">F (17,63) = 6.088</text>
<text x="58.4" y="425.05" class="st" textLength="40.4" lengthAdjust="spacingAndGlyphs">P &lt; 0.0001</text>
<polyline points="57,499.8 70.56,486.7 84.12,487.7 97.69,500.8 111.25,473.3 124.81,505.6 138.38,502.3 151.94,496.8 165.5,505" fill="none" stroke="#000" stroke-width="1.0"/>
<polyline points="57,503.2 70.56,460 84.12,453.4 97.69,468.5 111.25,476.8 124.81,494.1 138.38,465.5 151.94,434.5 165.5,503.8" fill="none" stroke="#000" stroke-width="1.0"/>
<path d="M57 494.7V507.8 M53.5 494.7H60.5 M53.5 507.8H60.5 M70.56 481V491.7 M67.06 481H74.06 M67.06 491.7H74.06 M84.12 483V491.7 M80.62 483H87.62 M80.62 491.7H87.62 M97.69 495.7V505.2 M94.19 495.7H101.19 M94.19 505.2H101.19 M111.25 456V490.7 M107.75 456H114.75 M107.75 490.7H114.75 M124.81 502V508.9 M121.31 502H128.31 M121.31 508.9H128.31 M138.38 497.9V507.3 M134.88 497.9H141.88 M134.88 507.3H141.88 M151.94 482.9V510.5 M148.44 482.9H155.44 M148.44 510.5H155.44" stroke="#000" stroke-width="1.3" fill="none"/>
<path d="M57 498V508.4 M53.5 498H60.5 M53.5 508.4H60.5 M70.56 448.3V471.5 M67.06 448.3H74.06 M67.06 471.5H74.06 M84.12 443.3V464.1 M80.62 443.3H87.62 M80.62 464.1H87.62 M97.69 461.4V475.6 M94.19 461.4H101.19 M94.19 475.6H101.19 M111.25 464.9V490.3 M107.75 464.9H114.75 M107.75 490.3H114.75 M124.81 492V496.5 M121.31 492H128.31 M121.31 496.5H128.31 M138.38 458.9V472.6 M134.88 458.9H141.88 M134.88 472.6H141.88 M151.94 426V442.9 M148.44 426H155.44 M148.44 442.9H155.44 M165.5 496.8V509 M162 496.8H169 M162 509H169" stroke="#000" stroke-width="1.3" fill="none"/>
<circle cx="57" cy="503.2" r="3.1" fill="#000"/>
<circle cx="70.56" cy="460" r="3.1" fill="#000"/>
<circle cx="84.12" cy="453.4" r="3.1" fill="#000"/>
<circle cx="97.69" cy="468.5" r="3.1" fill="#000"/>
<circle cx="111.25" cy="476.8" r="3.1" fill="#000"/>
<circle cx="124.81" cy="494.1" r="3.1" fill="#000"/>
<circle cx="138.38" cy="465.5" r="3.1" fill="#000"/>
<circle cx="151.94" cy="434.5" r="3.1" fill="#000"/>
<circle cx="165.5" cy="503.8" r="3.1" fill="#000"/>
<circle cx="57" cy="499.8" r="2.7" fill="none" stroke="#000" stroke-width="1.3"/>
<circle cx="70.56" cy="486.7" r="2.7" fill="none" stroke="#000" stroke-width="1.3"/>
<circle cx="84.12" cy="487.7" r="2.7" fill="none" stroke="#000" stroke-width="1.3"/>
<circle cx="97.69" cy="500.8" r="2.7" fill="none" stroke="#000" stroke-width="1.3"/>
<circle cx="111.25" cy="473.3" r="2.7" fill="none" stroke="#000" stroke-width="1.3"/>
<circle cx="124.81" cy="505.6" r="2.7" fill="none" stroke="#000" stroke-width="1.3"/>
<circle cx="138.38" cy="502.3" r="2.7" fill="none" stroke="#000" stroke-width="1.3"/>
<circle cx="151.94" cy="496.8" r="2.7" fill="none" stroke="#000" stroke-width="1.3"/>
<circle cx="165.5" cy="505" r="2.7" fill="none" stroke="#000" stroke-width="1.3"/>
<path d="M70.56 432V437.8 M68.05 433.45L73.07 436.35 M68.05 436.35L73.07 433.45" stroke="#000" stroke-width="1.05" fill="none"/>
<path d="M84.12 427.4V433.2 M81.61 428.85L86.64 431.75 M81.61 431.75L86.64 428.85" stroke="#000" stroke-width="1.05" fill="none"/>
<path d="M151.94 411.8V417.6 M149.43 413.25L154.45 416.15 M149.43 416.15L154.45 413.25" stroke="#000" stroke-width="1.05" fill="none"/>
</svg>
</body></html>
